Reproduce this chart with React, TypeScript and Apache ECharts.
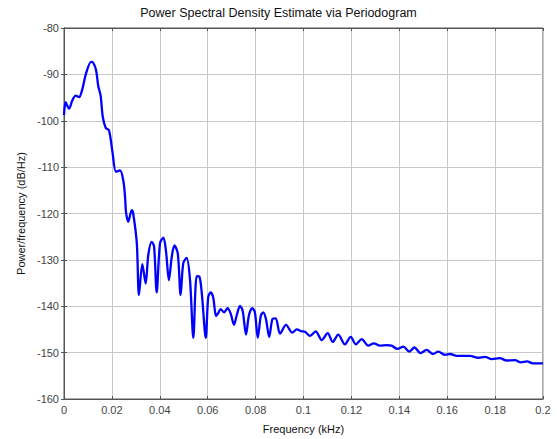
import React, { useEffect, useRef } from "react";
import * as echarts from "echarts";

const titleText = "Power Spectral Density Estimate via Periodogram";
const xName = "Frequency (kHz)";
const yName = "Power/frequency (dB/Hz)";

const freqKHz = [
  0.0, 0.0007, 0.0021, 0.0035, 0.0049, 0.0063, 0.0076, 0.0091, 0.0113, 0.0122,
  0.0134, 0.0143, 0.0153, 0.0162, 0.0174, 0.0188, 0.0202, 0.0217, 0.0234, 0.0248,
  0.0255, 0.0259, 0.0268, 0.0283, 0.0289, 0.0304, 0.0313, 0.0327, 0.0341, 0.0352,
  0.0366, 0.0376, 0.0387, 0.0401, 0.0415, 0.0426, 0.0438, 0.045, 0.0461, 0.0475,
  0.0487, 0.0498, 0.0512, 0.0526, 0.054, 0.0554, 0.0565, 0.0575, 0.0592, 0.0602,
  0.0612, 0.0623, 0.0635, 0.0644, 0.0654, 0.0668, 0.0683, 0.0696, 0.071, 0.0721,
  0.0735, 0.0746, 0.076, 0.0772, 0.0786, 0.0797, 0.0809, 0.0822, 0.0832, 0.0843,
  0.0857, 0.0871, 0.0884, 0.0902, 0.0927, 0.0953, 0.0972, 0.0992, 0.1006, 0.1027,
  0.1051, 0.1076, 0.1101, 0.1122, 0.1145, 0.1173, 0.1197, 0.1219, 0.1243, 0.1271,
  0.1294, 0.1319, 0.1347, 0.1368, 0.1392, 0.1417, 0.1442, 0.1463, 0.1489, 0.1514,
  0.154, 0.1563, 0.1591, 0.1612, 0.164, 0.1695, 0.173, 0.1758, 0.1786, 0.182,
  0.1848, 0.1883, 0.1907, 0.1934, 0.1957, 0.2,
];

const powerDb = [
  -98.8, -96.0, -97.4, -95.6, -94.6, -94.9, -93.3, -90.0, -87.3, -87.5,
  -89.1, -92.5, -94.6, -99.2, -101.5, -102.1, -106.6, -111.0, -110.7, -113.0,
  -116.5, -119.7, -121.8, -119.3, -120.0, -126.4, -137.6, -130.9, -135.1, -128.9,
  -126.1, -127.1, -137.0, -126.4, -125.2, -128.2, -134.4, -129.3, -126.9, -128.6,
  -137.6, -130.7, -129.6, -134.2, -146.8, -133.5, -133.6, -137.0, -146.8, -138.1,
  -137.0, -138.1, -142.1, -141.5, -140.6, -141.3, -140.4, -141.6, -144.0, -142.0,
  -139.9, -141.0, -146.1, -142.0, -140.4, -141.3, -146.8, -142.0, -141.3, -142.7,
  -146.6, -142.7, -142.6, -145.9, -144.0, -145.7, -145.0, -145.4, -145.5, -146.4,
  -145.4, -147.3, -145.8, -147.7, -146.1, -148.2, -146.6, -148.2, -147.1, -148.5,
  -148.0, -148.5, -148.4, -148.5, -149.2, -148.7, -149.8, -148.9, -150.1, -149.4,
  -150.3, -149.8, -150.5, -150.3, -150.7, -150.7, -151.1, -150.9, -151.4, -151.2,
  -151.7, -151.6, -152.1, -151.9, -152.3, -152.3,
];

const xMin = 0;
const xMax = 0.2;
const xStep = 0.02;
const yMin = -160;
const yMax = -80;
const yStep = 10;

export default function App() {
  const ref = useRef<HTMLDivElement>(null);
  useEffect(() => {
    if (!ref.current) return;
    const chart = echarts.init(ref.current, null, { renderer: "svg" });
    const font = "Liberation Sans, Arial, sans-serif";
    const data = freqKHz.map((f, i) => [f, powerDb[i]]);
    const axisLine = { show: true, lineStyle: { color: "#555", width: 1 } };
    const tick = { show: true, inside: true, length: 3, lineStyle: { color: "#555" } };
    chart.setOption({
      animation: false,
      backgroundColor: "#fff",
      title: {
        text: titleText,
        left: "center",
        top: 1,
        textStyle: { fontFamily: font, fontSize: 12.5, fontWeight: "normal", color: "#111" },
      },
      grid: {
        left: 64,
        right: 14,
        top: 28,
        bottom: 34,
        show: true,
        borderColor: "#555",
        borderWidth: 1,
        backgroundColor: "#fff",
      },
      xAxis: [
        {
          type: "value",
          min: xMin,
          max: xMax,
          interval: xStep,
          name: xName,
          nameLocation: "middle",
          nameGap: 24,
          nameTextStyle: { fontFamily: font, fontSize: 11, color: "#111" },
          axisLine,
          axisTick: tick,
          axisLabel: {
            fontFamily: font,
            fontSize: 11,
            color: "#444",
            margin: 5,
            formatter: (v: number) => String(parseFloat(v.toFixed(2))),
          },
          splitLine: { show: true, lineStyle: { color: "#c8c8c8", width: 1 } },
        },
        {
          type: "value",
          position: "top",
          min: xMin,
          max: xMax,
          interval: xStep,
          axisLine,
          axisTick: tick,
          axisLabel: { show: false },
          splitLine: { show: false },
        },
      ],
      yAxis: [
        {
          type: "value",
          min: yMin,
          max: yMax,
          interval: yStep,
          name: yName,
          nameLocation: "middle",
          nameGap: 37,
          nameTextStyle: { fontFamily: font, fontSize: 11, color: "#111" },
          axisLine,
          axisTick: tick,
          axisLabel: { fontFamily: font, fontSize: 11, color: "#444", margin: 5 },
          splitLine: { show: true, lineStyle: { color: "#c8c8c8", width: 1 } },
        },
        {
          type: "value",
          position: "right",
          min: yMin,
          max: yMax,
          interval: yStep,
          axisLine,
          axisTick: tick,
          axisLabel: { show: false },
          splitLine: { show: false },
        },
      ],
      series: [
        {
          type: "line",
          data,
          showSymbol: false,
          smooth: 0.3,
          lineStyle: { color: "#0000ff", width: 2.3 },
          xAxisIndex: 0,
          yAxisIndex: 0,
        },
      ],
    });
    return () => chart.dispose();
  }, []);
  return (
    <div
      ref={ref}
      style={{ position: "absolute", left: 0, top: 0, width: 557, height: 439 }}
    />
  );
}
